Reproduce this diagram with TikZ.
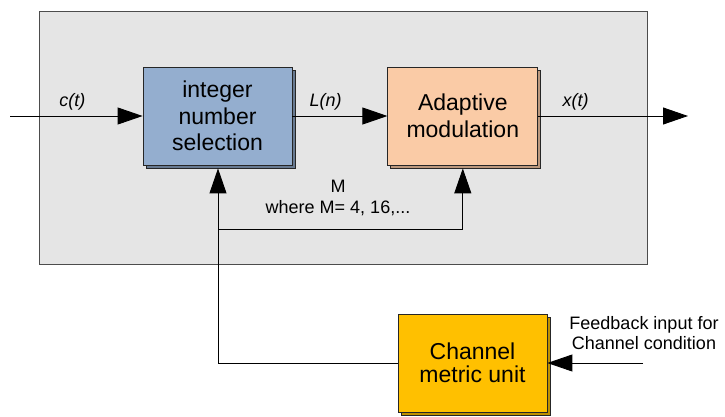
\documentclass[tikz,border=0pt]{standalone}
\usepackage{fontspec}
\setmainfont{Liberation Sans}
\usepackage{tikz}
\usetikzlibrary{positioning,arrows.meta,shadows}
\definecolor{selblue}{HTML}{94AECF}
\definecolor{modpeach}{HTML}{FACBA6}
\definecolor{unitamber}{HTML}{FFC000}
\tikzset{mybox/.style={draw=black!85,line width=0.8pt,inner sep=0pt,align=center,
    minimum width=149pt,minimum height=98pt,font=\fontsize{23}{26.5}\selectfont},
  arr/.style={line width=0.9pt,-{Triangle[length=25pt,width=17pt]}},
  lbl/.style={align=center,font=\fontsize{18}{21}\selectfont},
  sig/.style={above=2pt,font=\fontsize{18}{21}\selectfont\itshape}}

\begin{document}
\begin{tikzpicture}[x=1pt,y=-1pt]
    \useasboundingbox (0,0) rectangle (725,416);
    \draw[fill=black!10,draw=black!70,line width=0.9pt] (39,11) rectangle (647,264);
    \node[mybox,fill=selblue,
      copy shadow={shadow xshift=3pt,shadow yshift=-3pt,fill=selblue!70!black}] (sel) at (217.5,116) {integer\\number\\selection};
    \node[mybox,fill=modpeach,minimum width=150pt,right=95pt of sel,
      copy shadow={shadow xshift=3pt,shadow yshift=-3pt,fill=modpeach!75!black}] (mod) {Adaptive\\modulation};
    \node[mybox,fill=unitamber,font=\fontsize{23}{23}\selectfont,
      copy shadow={shadow xshift=3pt,shadow yshift=-3pt,fill=unitamber!75!black}] (cmu) at (472.5,363) {Channel\\metric unit};
    \coordinate (in) at (10,116);
    \coordinate (out) at (688,116);
    \coordinate (fbin) at (643,363);
    \coordinate (split) at (218,229);
    \draw[arr] (in) -- node[sig,pos=0.47]{c(t)} (sel.west);
    \draw[arr] (sel.east) -- node[sig,pos=0.35]{L(n)} (mod.west);
    \draw[arr] (mod.east) -- node[sig,pos=0.25]{x(t)} (out);
    \draw[arr] (fbin) -- (cmu.east);
    \draw[line width=0.9pt] (cmu.west) -| (split);
    \draw[arr] (split) -- ([yshift=-3pt]sel.south -| split);
    \draw[arr] (split) -| ([yshift=-3pt]mod.south);
    \node[lbl] (mval) at (338,197.5) {M\\where M= 4, 16,...};
    \node[lbl,font=\fontsize{18}{20}\selectfont] (fbtxt) at (644,333) {Feedback input for\\Channel condition};
\end{tikzpicture}
\end{document}
